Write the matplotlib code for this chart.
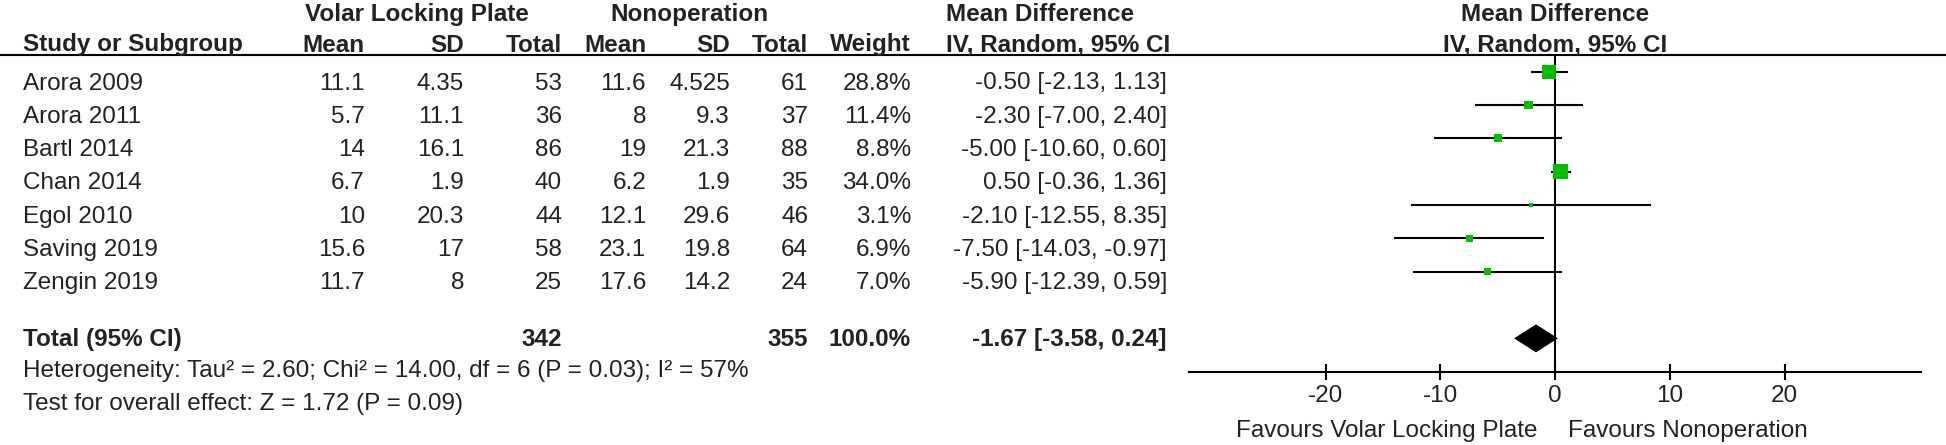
import matplotlib
matplotlib.use("Agg")
import numpy as np
from matplotlib import pyplot as plt
from matplotlib import transforms

plt.rcParams['font.family'] = ['Liberation Sans', 'DejaVu Sans']

# data
studies = ["Arora 2009", "Arora 2011", "Bartl 2014", "Chan 2014", "Egol 2010", "Saving 2019", "Zengin 2019"]
vlp_mean = [11.1, 5.7, 14, 6.7, 10, 15.6, 11.7]
vlp_sd = [4.35, 11.1, 16.1, 1.9, 20.3, 17, 8]
vlp_n = [53, 36, 86, 40, 44, 58, 25]
non_mean = [11.6, 8, 19, 6.2, 12.1, 23.1, 17.6]
non_sd = [4.525, 9.3, 21.3, 1.9, 29.6, 19.8, 14.2]
non_n = [61, 37, 88, 35, 46, 64, 24]
weight = [28.8, 11.4, 8.8, 34.0, 3.1, 6.9, 7.0]
md = [-0.50, -2.30, -5.00, 0.50, -2.10, -7.50, -5.90]
ci_lo = [-2.13, -7.00, -10.60, -0.36, -12.55, -14.03, -12.39]
ci_hi = [1.13, 2.40, 0.60, 1.36, 8.35, -0.97, 0.59]

total_vlp = 342
total_non = 355
total_md = -1.67
total_lo = -3.58
total_hi = 0.24

het_text = "Heterogeneity: Tau² = 2.60; Chi² = 14.00, df = 6 (P = 0.03); I² = 57%"
test_text = "Test for overall effect: Z = 1.72 (P = 0.09)"
ticks = [-20, -10, 0, 10, 20]
fav_left = "Favours Volar Locking Plate"
fav_right = "Favours Nonoperation"

W, H = 1946, 445
fs = 17.5
tc = '#222222'
green = '#00c000'

fig = plt.figure(figsize=(W / 100, H / 100), dpi=100)

# table layer in pixel coordinates
tab = fig.add_axes([0, 0, 1, 1])
tab.set_xlim(0, W)
tab.set_ylim(H, 0)
tab.axis('off')

def txt(x, y, s, ha='left', bold=False):
    tab.text(x, y, s, ha=ha, va='baseline', fontsize=fs, color=tc,
             fontweight='bold' if bold else 'normal')

# headers
txt(417, 21, "Volar Locking Plate", ha='center', bold=True)
txt(689, 21, "Nonoperation", ha='center', bold=True)
txt(946, 21, "Mean Difference", bold=True)
txt(1555, 21, "Mean Difference", ha='center', bold=True)

cols = [365, 464, 562, 646, 730, 808, 911]
heads = ["Mean", "SD", "Total", "Mean", "SD", "Total", "Weight"]
txt(23, 51.5, "Study or Subgroup", bold=True)
for x, h in zip(cols, heads):
    txt(x, 51.5, h, ha='right', bold=True)
txt(946, 51.5, "IV, Random, 95% CI", bold=True)
txt(1555, 51.5, "IV, Random, 95% CI", ha='center', bold=True)
tab.plot([0, W], [55, 55], color='black', lw=1.5)

row0 = 71.7
step = 33.33
for i, name in enumerate(studies):
    y = row0 + step * i + 17.8
    vals = [f"{vlp_mean[i]:g}", f"{vlp_sd[i]:g}", f"{vlp_n[i]}",
            f"{non_mean[i]:g}", f"{non_sd[i]:g}", f"{non_n[i]}", f"{weight[i]:.1f}%"]
    txt(23, y, name)
    for x, v in zip(cols, vals):
        txt(x, y, v, ha='right')
    txt(1167, y, f"{md[i]:.2f} [{ci_lo[i]:.2f}, {ci_hi[i]:.2f}]", ha='right')

yt = 346.4
txt(23, yt, "Total (95% CI)", bold=True)
txt(cols[2], yt, f"{total_vlp}", ha='right', bold=True)
txt(cols[5], yt, f"{total_non}", ha='right', bold=True)
txt(cols[6], yt, f"{sum(weight):.1f}%", ha='right', bold=True)
txt(1167, yt, f"{total_md:.2f} [{total_lo:.2f}, {total_hi:.2f}]", ha='right', bold=True)
txt(23, 377.5, het_text)
txt(23, 410, test_text)

# forest plot
x0, x1 = 1189.3, 1921
ytop, ybot = 55, 371.7
ax = fig.add_axes([x0 / W, 1 - ybot / H, (x1 - x0) / W, (ybot - ytop) / H])
ax.patch.set_alpha(0)
ax.set_xlim(-31.9, 31.9)
ax.set_ylim(9.0, -0.5)
for s in ['top', 'left', 'right']:
    ax.spines[s].set_visible(False)
ax.spines['bottom'].set_linewidth(1.5)
ax.set_yticks([])
ax.set_xticks(ticks)
ax.set_xticklabels([f"{t}" for t in ticks])
ax.tick_params(axis='x', direction='inout', length=11.5, width=1.5, pad=4,
               labelsize=fs, labelcolor=tc)
ax.axvline(0, color='black', lw=1.5)

rows = np.arange(len(studies))
ax.hlines(rows, ci_lo, ci_hi, color='black', lw=1.5)
sizes = (2.6 * np.sqrt(weight) * 0.72) ** 2
ax.scatter(md, rows, s=sizes, marker='s', color=green, zorder=3, linewidths=0)

ty = 8.0
ax.fill([total_lo, total_md, total_hi, total_md], [ty, ty - 0.42, ty, ty + 0.42],
        color='black', zorder=3, lw=0)

fy = transforms.blended_transform_factory(ax.transData, tab.transData)
ax.text(0, 437, fav_left, transform=fy, ha='right', va='baseline', fontsize=fs,
        color=tc).set_x(-1.5)
ax.text(1.15, 437, fav_right, transform=fy, ha='left', va='baseline', fontsize=fs,
        color=tc)

fig.savefig("out.png", dpi=100)
